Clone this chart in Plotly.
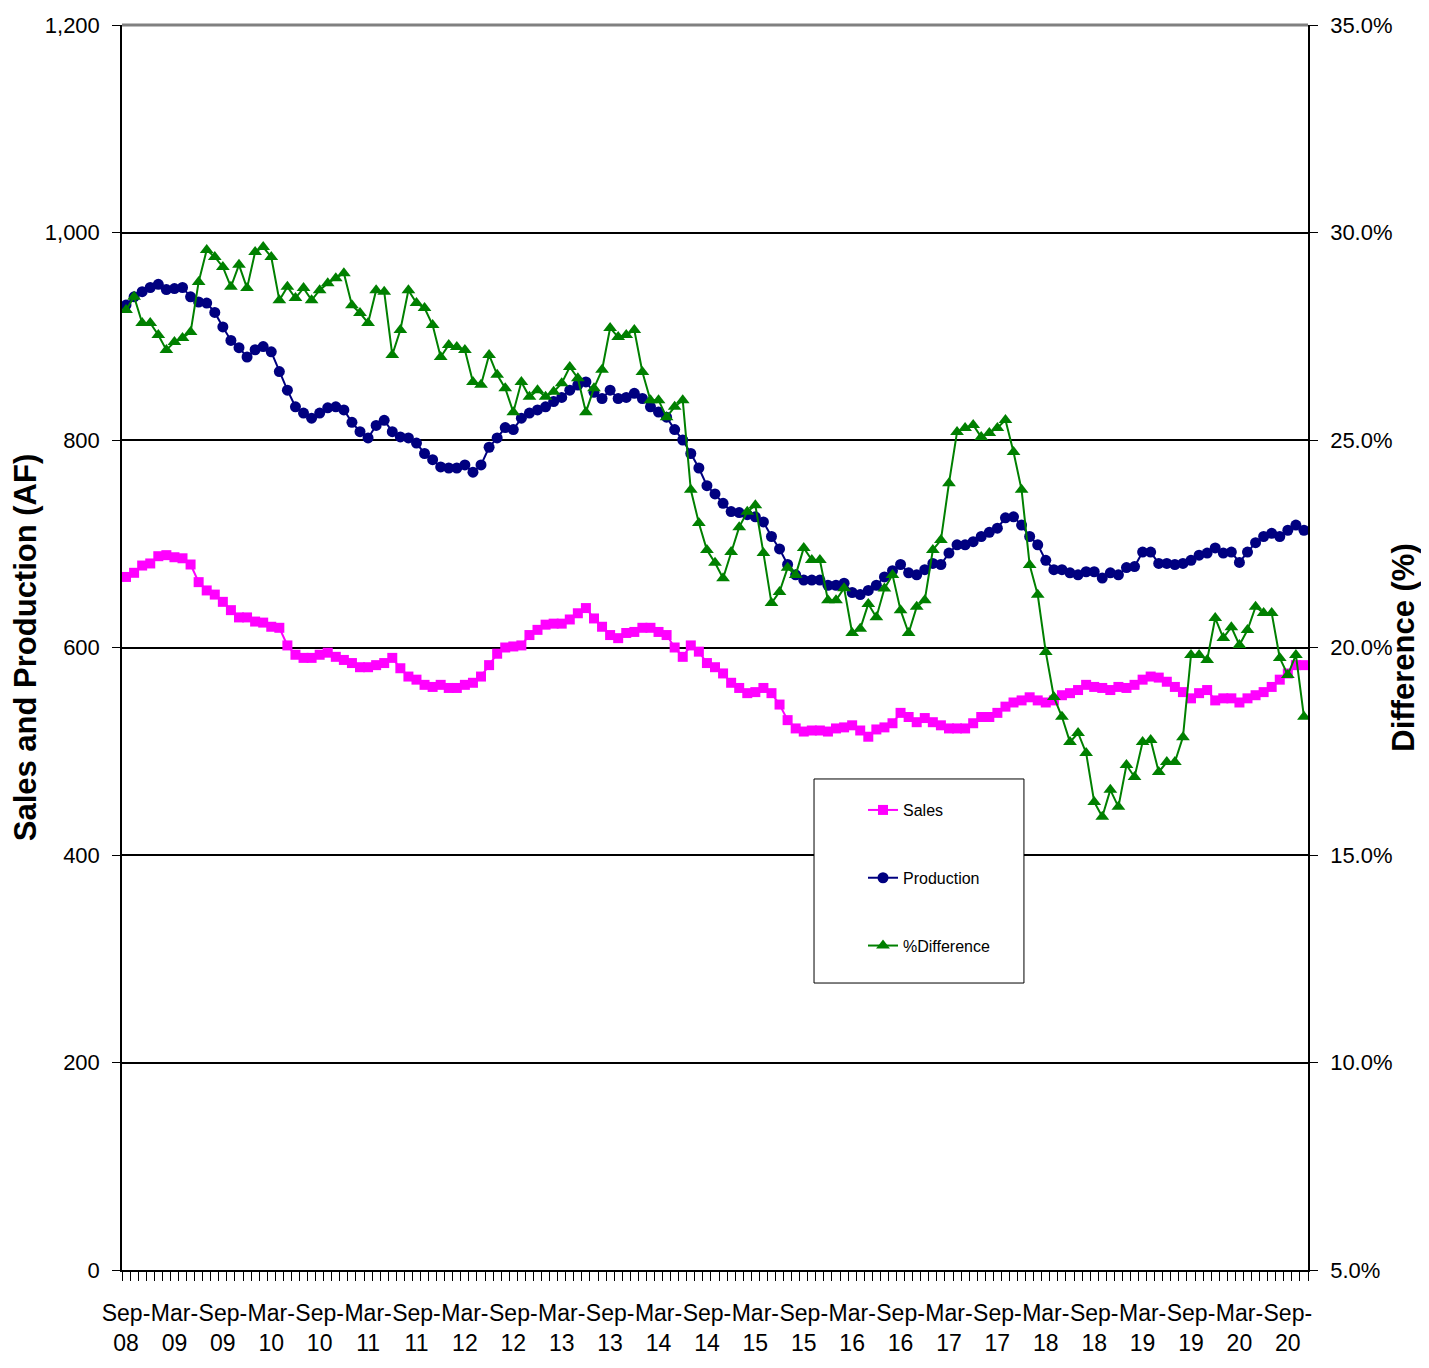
import plotly.graph_objects as go
import pandas as pd

# Monthly categories Sep-08 .. Nov-20
months = pd.date_range("2008-09-01", periods=147, freq="MS").strftime("%b-%y").tolist()
x_idx = list(range(len(months)))

sales = [
    668, 672, 679, 681, 688, 689, 687, 686, 680, 663, 655, 651, 644, 636, 629, 629, 625, 624, 620, 619,
    602, 593, 590, 590, 593, 595, 591, 588, 585, 581, 581, 583, 585, 590, 580, 572, 569, 564, 562, 564,
    561, 561, 564, 566, 572, 583, 594, 600, 601, 602, 612, 617, 622, 623, 623, 627, 633, 638, 628, 620,
    612, 609, 614, 615, 619, 619, 615, 612, 600, 591, 602, 596, 585, 581, 575, 566, 561, 556, 557, 561,
    556, 545, 530, 522, 519, 520, 520, 519, 522, 523, 525, 520, 514, 521, 523, 527, 537, 533, 528, 532,
    528, 525, 522, 522, 522, 527, 533, 533, 537, 543, 547, 549, 552, 549, 547, 549, 554, 556, 559, 564,
    562, 561, 559, 562, 561, 564, 569, 572, 571, 567, 562, 557, 551, 556, 559, 549, 551, 551, 547, 551,
    554, 557, 562, 569, 575, 583, 583,
]

production = [
    930, 938, 943, 947, 950, 945, 946, 947, 938, 933, 932, 923, 909, 896, 889, 880, 887, 890, 885, 866,
    848, 832, 826, 821, 826, 831, 832, 829, 817, 808, 802, 814, 819, 808, 803, 802, 797, 787, 781, 774,
    773, 773, 776, 769, 776, 793, 802, 812, 810, 821, 826, 829, 832, 837, 841, 848, 853, 856, 846, 840,
    848, 840, 841, 845, 840, 832, 827, 822, 810, 800, 787, 773, 756, 748, 739, 731, 730, 728, 726, 721,
    707, 695, 680, 670, 665, 665, 665, 660, 660, 662, 653, 651, 655, 660, 668, 674, 680, 672, 670, 675,
    681, 680, 691, 699, 699, 702, 707, 711, 715, 725, 726, 718, 707, 699, 684, 675, 675, 672, 670, 673,
    673, 667, 672, 670, 677, 678, 692, 692, 681, 681, 680, 681, 684, 689, 691, 696, 691, 692, 682, 692,
    701, 707, 710, 707, 713, 718, 713,
]

pct_difference = [
    28.13, 28.45, 27.82, 27.82, 27.53, 27.17, 27.36, 27.46, 27.60, 28.81, 29.58, 29.41, 29.17, 28.69, 29.22,
    28.66, 29.53, 29.65, 29.41, 28.37, 28.69, 28.42, 28.66, 28.37, 28.61, 28.78, 28.90, 29.02, 28.25, 28.06,
    27.82, 28.61, 28.57, 27.05, 27.65, 28.61, 28.30, 28.18, 27.77, 27.00, 27.29, 27.24, 27.17, 26.40, 26.33,
    27.05, 26.57, 26.25, 25.67, 26.40, 26.04, 26.20, 26.04, 26.16, 26.37, 26.76, 26.49, 25.67, 26.25, 26.69,
    27.70, 27.48, 27.53, 27.65, 26.64, 25.96, 25.96, 25.55, 25.80, 25.96, 23.80, 23.00, 22.35, 22.04, 21.67,
    22.30, 22.90, 23.27, 23.43, 22.28, 21.07, 21.34, 21.92, 21.75, 22.40, 22.11, 22.11, 21.14, 21.14, 21.43,
    20.35, 20.45, 21.05, 20.73, 21.42, 21.75, 20.90, 20.35, 20.98, 21.14, 22.35, 22.59, 23.96, 25.19, 25.29,
    25.36, 25.07, 25.17, 25.29, 25.48, 24.71, 23.80, 21.99, 21.27, 19.89, 18.81, 18.33, 17.72, 17.94, 17.46,
    16.28, 15.92, 16.57, 16.16, 17.17, 16.88, 17.72, 17.77, 17.00, 17.24, 17.24, 17.84, 19.82, 19.82, 19.70,
    20.71, 20.23, 20.49, 20.06, 20.42, 20.98, 20.83, 20.83, 19.75, 19.34, 19.82, 18.33,
]

tick_labels = ["Sep-<br>08", "Mar-<br>09", "Sep-<br>09", "Mar-<br>10", "Sep-<br>10", "Mar-<br>11",
               "Sep-<br>11", "Mar-<br>12", "Sep-<br>12", "Mar-<br>13", "Sep-<br>13", "Mar-<br>14",
               "Sep-<br>14", "Mar-<br>15", "Sep-<br>15", "Mar-<br>16", "Sep-<br>16", "Mar-<br>17",
               "Sep-<br>17", "Mar-<br>18", "Sep-<br>18", "Mar-<br>19", "Sep-<br>19", "Mar-<br>20",
               "Sep-<br>20"]
tick_pos = [i for i, m in enumerate(months) if m.startswith(("Sep", "Mar"))]

FONT = "Liberation Sans, Arial, sans-serif"

fig = go.Figure()
fig.add_trace(go.Scatter(
    x=x_idx, y=sales, name="Sales", mode="lines+markers", legendgroup="g1",
    line=dict(color="#FF00FF", width=2),
    marker=dict(symbol="square", size=10, color="#FF00FF"),
))
fig.add_trace(go.Scatter(
    x=x_idx, y=production, name="Production", mode="lines+markers", legendgroup="g2",
    line=dict(color="#000080", width=2),
    marker=dict(symbol="circle", size=11, color="#000080"),
))
fig.add_trace(go.Scatter(
    x=x_idx, y=pct_difference, name="%Difference", mode="lines+markers", legendgroup="g3",
    yaxis="y2",
    line=dict(color="#008000", width=2),
    marker=dict(symbol="triangle-up", size=12, color="#008000"),
))

fig.update_layout(
    width=1413, height=1352,
    margin=dict(l=114, r=113, t=17, b=90, autoexpand=False),
    paper_bgcolor="white", plot_bgcolor="white",
    font=dict(family=FONT, color="black"),
    xaxis=dict(
        range=[-0.5, 146.5], tickmode="array", tickvals=tick_pos, ticktext=tick_labels,
        ticks="", showgrid=False, zeroline=False, tickangle=0,
        showline=True, linecolor="black", linewidth=1.5,
        ticklabelstandoff=22,
        tickfont=dict(family=FONT, size=23, color="black"),
        minor=dict(tickmode="linear", tick0=-0.5, dtick=1, ticks="outside",
                   ticklen=9, tickwidth=1, tickcolor="black", showgrid=False),
    ),
    yaxis=dict(
        range=[0, 1200], dtick=200, tickformat=",", showgrid=True,
        gridcolor="black", gridwidth=1.5, zeroline=False,
        showline=True, linecolor="black", linewidth=1.5,
        ticks="outside", ticklen=8, tickcolor="black", ticklabelstandoff=8,
        tickfont=dict(family=FONT, size=22, color="black"),
        title=dict(text="<b>Sales and Production (AF)</b>", standoff=16,
                   font=dict(family=FONT, size=31, color="black")),
    ),
    yaxis2=dict(
        overlaying="y", side="right", range=[5, 35], dtick=5,
        tickformat=".1f", ticksuffix="%", showgrid=False, zeroline=False,
        showline=True, linecolor="black", linewidth=1.5,
        ticks="outside", ticklen=8, tickcolor="black", ticklabelstandoff=8,
        tickfont=dict(family=FONT, size=22, color="black"),
        title=dict(text="<b>Difference (%)</b>", standoff=6,
                   font=dict(family=FONT, size=31, color="black")),
    ),
    legend=dict(
        x=0.6248, y=0.3831, xanchor="left", yanchor="top",
        bgcolor="rgba(0,0,0,0)", borderwidth=0,
        font=dict(family=FONT, size=16, color="black"),
        traceorder="grouped", tracegroupgap=44,
    ),
    shapes=[
        # legend frame
        dict(type="rect", xref="paper", yref="paper", x0=0.5835, x1=0.7605, y0=0.2305, y1=0.3944,
             line=dict(color="black", width=1), fillcolor="white", layer="above"),
        # grey top border of the plot area
        dict(type="line", xref="paper", yref="paper", x0=0, x1=1, y0=1, y1=1,
             line=dict(color="#808080", width=3), layer="above"),
    ],
)

fig.write_html("out.html")
